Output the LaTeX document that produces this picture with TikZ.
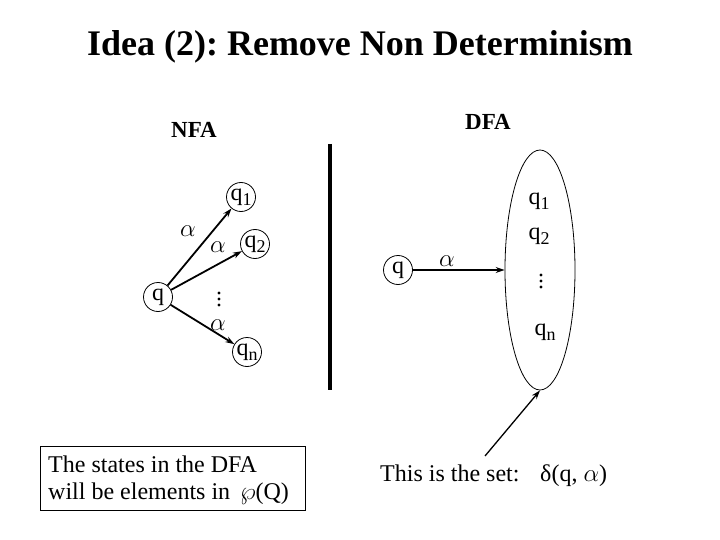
\documentclass[tikz,border=0pt]{standalone}
\usepackage{fontspec}
\setmainfont{Liberation Serif}
\usetikzlibrary{arrows.meta,shapes.geometric}
\newcommand\qsub[1]{q\raisebox{-0.45ex}{\fontsize{18}{18}\selectfont #1}}
\newcommand\alp{{\fontsize{27}{27}\selectfont$\alpha$}}
\frenchspacing
\begin{document}
\begin{tikzpicture}[x=1pt,y=-1pt,
  every node/.style={font=\fontsize{24}{27}\selectfont},
  st/.style={draw,circle,line width=0.8pt,inner sep=0pt,minimum size=29pt},
  tr/.style={line width=1.8pt,-{Stealth[length=9pt,width=6pt]}},
  lbl/.style={inner sep=0pt},
  dotsv/.style={fill,circle,inner sep=0pt,minimum size=3.2pt}]
\useasboundingbox (0,0) rectangle (720,540);
% title
\node[font=\fontsize{36}{40}\selectfont\bfseries] (title) at (360,47) {Idea (2): Remove Non Determinism};
\node[font=\fontsize{23}{26}\selectfont\bfseries] (nfa) at (194,130) {NFA};
\node[font=\fontsize{23}{26}\selectfont\bfseries] (dfa) at (488,122) {DFA};
% separator
\coordinate (bartop) at (330,144);
\coordinate (barbot) at (330,390);
\draw[line width=4pt] (bartop) -- (barbot);
% NFA
\node[st] (q) at (158,297) {q};
\node[st] (q1) at (241,197) {\qsub{1}};
\node[st] (q2) at (255,244) {\qsub{2}};
\node[st] (qn) at (247,352) {\qsub{n}};
\draw[tr] (q) -- (q1);
\draw[tr] (q) -- (q2);
\draw[tr] (q) -- (qn);
\node[lbl] (a1) at (188,231) {\alp};
\node[lbl] (a2) at (218,247) {\alp};
\node[lbl] (a3) at (218,325) {\alp};
\node[dotsv] (d1) at (219,293) {};
\node[dotsv] (d2) at (219,299) {};
\node[dotsv] (d3) at (219,305) {};
% DFA
\node[st] (dq) at (398,270) {q};
\node[draw,ellipse,line width=0.8pt,minimum width=70pt,minimum height=240pt,inner sep=0pt] (E) at (540,270) {};
\draw[tr] (dq) -- (E.west);
\node[lbl] (da) at (447,261) {\alp};
\node[lbl] (e1) at (539,201) {\qsub{1}};
\node[lbl] (e2) at (539,236) {\qsub{2}};
\node[dotsv] (e3) at (541,275) {};
\node[dotsv] (e4) at (541,281) {};
\node[dotsv] (e5) at (541,287) {};
\node[lbl] (en) at (545,332) {\qsub{n}};
\coordinate (ptr) at (485,456);
\draw[line width=1.3pt,-{Stealth[length=9pt,width=6pt]}] (ptr) -- (E.south);
\node[lbl,anchor=base west] (set) at (380,481) {This is the set:};
\node[lbl,anchor=base west] (delta) at (540,481) {δ(q, \alp)};
% box
\node[draw,line width=0.8pt,minimum width=265pt,minimum height=64pt] (box) at (172.5,478) {};
\node[lbl,anchor=base west,align=left] (boxtext) at (48,499) {The states in the DFA\\will be elements in \,$\wp$(Q)};
\end{tikzpicture}
\end{document}
